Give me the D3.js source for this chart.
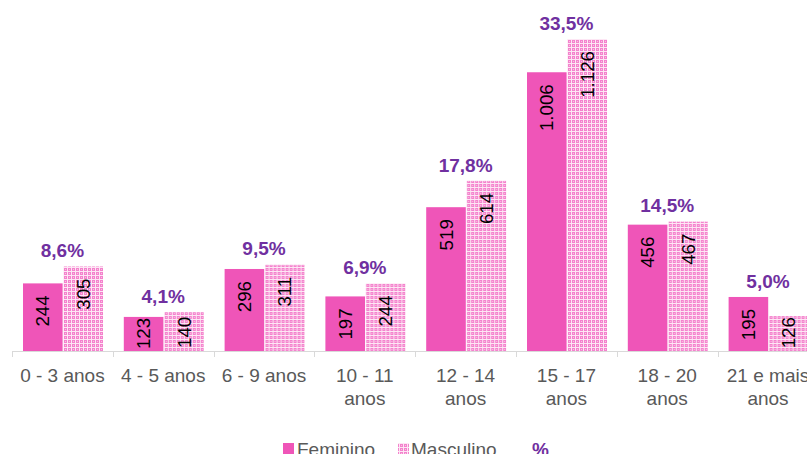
<!DOCTYPE html>
<html>
<head>
<meta charset="utf-8" />
<script src="https://d3js.org/d3.v7.min.js"></script>
<style>
    body { margin: 0; background: #fff; font-family: "Liberation Sans", Arial, sans-serif; }
    svg { display: block; }
</style>
</head>
<body>
<svg class="chart"></svg>
<script>

// data
var categories = ["0 - 3 anos", "4 - 5 anos", "6 - 9 anos", "10 - 11\nanos", "12 - 14\nanos", "15 - 17\nanos", "18 - 20\nanos", "21 e mais\nanos"];
var feminino = [244, 123, 296, 197, 519, 1006, 456, 195];
var masculino = [305, 140, 311, 244, 614, 1126, 467, 126];
var percent = ["8,6%", "4,1%", "9,5%", "6,9%", "17,8%", "33,5%", "14,5%", "5,0%"];
var seriesNames = ["Feminino", "Masculino"];

var width = 807, height = 454;
var baseY = 351;

var svg = d3.select(".chart")
    .attr("width", width)
    .attr("height", height);

// pattern for Masculino
var defs = svg.append("defs");
var pat = defs.append("pattern")
    .attr("id", "checker")
    .attr("width", 4).attr("height", 4)
    .attr("patternUnits", "userSpaceOnUse");
pat.append("rect").attr("width", 4).attr("height", 4).attr("fill", "#f482cd");
pat.append("rect").attr("x", 3).attr("width", 1).attr("height", 4).attr("fill", "#fde6f4");
pat.append("rect").attr("y", 3).attr("width", 4).attr("height", 1).attr("fill", "#fde6f4");
pat.append("rect").attr("x", 1).attr("y", 1).attr("width", 1).attr("height", 1).attr("fill", "#fac0e4");

var colors = ["#ef55b8", "url(#checker)"];

var x0 = d3.scaleBand()
    .domain(categories)
    .range([12, 12 + 8 * 100.8])
    .padding(0);

var x1 = d3.scaleBand()
    .domain(seriesNames)
    .range([11, 91])
    .paddingInner(0.02);

var y = d3.scaleLinear()
    .domain([0, 1200])
    .range([baseY, 18.5]);

var rows = categories.map(function(c, i) {
    return { cat: c, values: [feminino[i], masculino[i]], pct: percent[i] };
});

// axis line + ticks
svg.append("line")
    .attr("x1", 12).attr("x2", width)
    .attr("y1", baseY + 0.5).attr("y2", baseY + 0.5)
    .attr("stroke", "#d9d9d9").attr("stroke-width", 1);

svg.selectAll(".tick-mark")
    .data(categories)
    .enter().append("line")
    .attr("class", "tick-mark")
    .attr("x1", function(d) { return Math.round(x0(d)) + 0.5; })
    .attr("x2", function(d) { return Math.round(x0(d)) + 0.5; })
    .attr("y1", baseY).attr("y2", baseY + 6)
    .attr("stroke", "#d9d9d9");

var groups = svg.selectAll(".grp")
    .data(rows)
    .enter().append("g")
    .attr("class", "grp")
    .attr("transform", function(d) { return "translate(" + x0(d.cat) + ",0)"; });

// bars
groups.selectAll("rect")
    .data(function(d) { return d.values.map(function(v, i) { return { s: seriesNames[i], v: v, i: i }; }); })
    .enter().append("rect")
    .attr("x", function(d) { return x1(d.s); })
    .attr("y", function(d) { return y(d.v); })
    .attr("width", x1.bandwidth())
    .attr("height", function(d) { return baseY - y(d.v); })
    .attr("fill", function(d) { return colors[d.i]; });

// value labels, rotated inside end (pushed up when the bar is short)
groups.selectAll(".val")
    .data(function(d) { return d.values.map(function(v, i) { return { s: seriesNames[i], v: v }; }); })
    .enter().append("text")
    .attr("class", "val")
    .attr("text-anchor", "end")
    .attr("dy", "0.35em")
    .attr("font-size", "18.7px")
    .attr("fill", "#000")
    .text(function(d) { return d3.format(",")(d.v).replace(/,/g, "."); })
    .attr("transform", function(d) {
        var cx = x1(d.s) + x1.bandwidth() / 2;
        var len = this.getComputedTextLength();
        var barH = baseY - y(d.v);
        var off = Math.max(1, Math.min(12, barH - len - 3));
        return "translate(" + cx + "," + (y(d.v) + off) + ") rotate(-90)";
    });

// percent labels
groups.append("text")
    .attr("x", x0.bandwidth() / 2)
    .attr("y", function(d) { return y(d3.max(d.values)) - 16; })
    .attr("dy", "0.35em")
    .attr("text-anchor", "middle")
    .attr("font-size", "19px")
    .attr("font-weight", "bold")
    .attr("fill", "#7030a0")
    .text(function(d) { return d.pct; });

// category labels
groups.append("text")
    .attr("x", x0.bandwidth() / 2)
    .attr("y", 382)
    .attr("text-anchor", "middle")
    .attr("font-size", "19px")
    .attr("fill", "#595959")
    .selectAll("tspan")
    .data(function(d) { return d.cat.split("\n"); })
    .enter().append("tspan")
    .attr("x", x0.bandwidth() / 2)
    .attr("dy", function(d, i) { return i === 0 ? 0 : 23; })
    .text(function(d) { return d; });

// legend
var legend = svg.append("g").attr("font-size", "19px");
legend.append("rect").attr("x", 283).attr("y", 443).attr("width", 11).attr("height", 11).attr("fill", colors[0]);
legend.append("text").attr("x", 297).attr("y", 456).attr("fill", "#595959").text("Feminino");
legend.append("rect").attr("x", 398).attr("y", 443).attr("width", 11).attr("height", 11).attr("fill", colors[1]);
legend.append("text").attr("x", 411).attr("y", 456).attr("fill", "#595959").text("Masculino");
legend.append("text").attr("x", 532).attr("y", 456).attr("fill", "#7030a0").attr("font-weight", "bold").text("%");

</script>
</body>
</html>
